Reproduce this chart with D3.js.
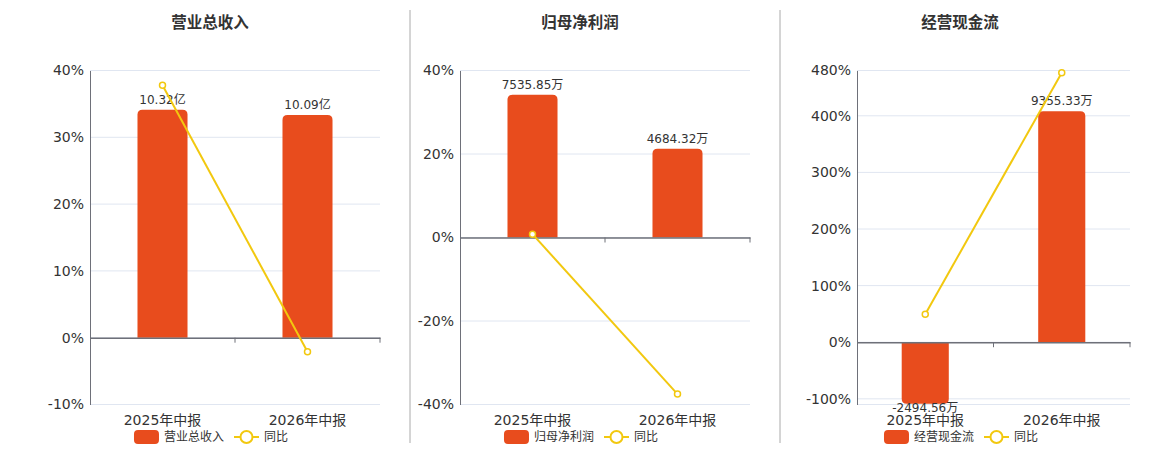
<!DOCTYPE html>
<html><head><meta charset="utf-8">
<script src="https://cdn.jsdelivr.net/npm/d3@7/dist/d3.min.js"></script>
<style>
html,body{margin:0;padding:0;background:#fff;}
svg text{font-family:"DejaVu Sans","Noto Sans CJK SC",sans-serif;}
</style></head>
<body>
<svg id="chart" width="1160" height="450"></svg>
<script>
// ---- data ----
const categories = ["2025年中报", "2026年中报"];
const titles = ["营业总收入", "归母净利润", "经营现金流"];
const revenueValues = [10.32, 10.09];
const revenueLabels = ["10.32亿", "10.09亿"];
const revenueYoY = [37.8, -2.1];
const profitValues = [7535.85, 4684.32];
const profitLabels = ["7535.85万", "4684.32万"];
const profitYoY = [0.8, -37.5];
const cashValues = [-2494.56, 9355.33];
const cashLabels = ["-2494.56万", "9355.33万"];
const cashYoY = [49.6, 476];
const lineName = "同比";
// axis tick labels (percent)
const revenueTicks = [-10, 0, 10, 20, 30, 40];
const profitTicks = [-40, -20, 0, 20, 40];
const cashTicks = [-100, 0, 100, 200, 300, 400, 480];

const panels = [
  {title: titles[0], values: revenueValues, labels: revenueLabels, yoy: revenueYoY, ticks: revenueTicks,
   pct: [-10, 40], barMax: 12.1, left: 90, right: 380, cx: 210},
  {title: titles[1], values: profitValues, labels: profitLabels, yoy: profitYoY, ticks: profitTicks,
   pct: [-40, 40], barMax: 8820, left: 460, right: 750, cx: 580},
  {title: titles[2], values: cashValues, labels: cashLabels, yoy: cashYoY, ticks: cashTicks,
   pct: [-110, 480], barMax: 11000, left: 857, right: 1130, cx: 960}
];

const BAR = "#E84C1D", LINE = "#F2C80F", AXIS = "#6E7079", GRID = "#E0E6F1", TXT = "#333";
const plotTop = 70.5, plotBottom = 404.5;
const svg = d3.select("#chart");

// separators
[410, 780].forEach(x => svg.append("line").attr("x1", x).attr("x2", x).attr("y1", 10).attr("y2", 443)
  .attr("stroke", "#aaa").attr("stroke-width", 1));

function barPath(x, w, y0, y1, r) {
  const h = Math.abs(y1 - y0);
  r = Math.min(r, h / 2, w / 2);
  if (y1 < y0) {
    return `M${x},${y0}V${y1 + r}Q${x},${y1} ${x + r},${y1}H${x + w - r}Q${x + w},${y1} ${x + w},${y1 + r}V${y0}Z`;
  } else {
    return `M${x},${y0}V${y1 - r}Q${x},${y1} ${x + r},${y1}H${x + w - r}Q${x + w},${y1} ${x + w},${y1 - r}V${y0}Z`;
  }
}

panels.forEach(p => {
  const g = svg.append("g");
  const x = d3.scaleBand().domain(categories).range([p.left, p.right]).paddingInner(0).paddingOuter(0);
  const y = d3.scaleLinear().domain(p.pct).range([plotBottom, plotTop]);
  const barMin = p.barMax * p.pct[0] / p.pct[1];
  const yb = d3.scaleLinear().domain([barMin, p.barMax]).range([plotBottom, plotTop]);

  g.append("text").attr("x", p.cx).attr("y", 28).attr("text-anchor", "middle")
    .attr("font-size", "15.5px").attr("font-weight", "bold").attr("fill", TXT)
    .style("font-family", "'Noto Sans CJK SC',sans-serif").text(p.title);

  const gridVals = p.ticks.concat([p.pct[0]]).filter((v, i, a) => a.indexOf(v) === i);
  g.selectAll(".grid").data(gridVals).enter().append("line")
    .attr("x1", p.left).attr("x2", p.right).attr("y1", d => y(d)).attr("y2", d => y(d))
    .attr("stroke", GRID).attr("stroke-width", 1);

  const yAxis = d3.axisLeft(y).tickValues(p.ticks).tickSize(0).tickPadding(6).tickFormat(d => d + "%");
  const ya = g.append("g").attr("transform", `translate(${p.left},0)`).call(yAxis);
  ya.attr("font-family", null);
  ya.select(".domain").attr("stroke", AXIS).attr("stroke-width", 1);
  ya.selectAll("text").attr("font-size", "14px").attr("fill", TXT);

  const bw = x.bandwidth() * 0.345;
  g.selectAll(".bar").data(p.values).enter().append("path")
    .attr("d", (d, i) => barPath(x(categories[i]) + (x.bandwidth() - bw) / 2, bw, yb(0), yb(d), 5))
    .attr("fill", BAR);

  g.selectAll(".bl").data(p.values).enter().append("text")
    .attr("x", (d, i) => x(categories[i]) + x.bandwidth() / 2)
    .attr("y", d => d >= 0 ? yb(d) - 6 : yb(d) + 8)
    .attr("text-anchor", "middle").attr("font-size", "12px").attr("fill", TXT)
    .text((d, i) => p.labels[i]);

  const xAxis = d3.axisBottom(x).tickSize(0).tickFormat("");
  const xa = g.append("g").attr("transform", `translate(0,${y(0)})`).call(xAxis);
  xa.select(".domain").attr("stroke", AXIS).attr("stroke-width", 1.5);
  const bounds = [x(categories[1]), p.right];
  g.selectAll(".xt").data(bounds).enter().append("line")
    .attr("x1", d => d).attr("x2", d => d).attr("y1", y(0)).attr("y2", y(0) + 5)
    .attr("stroke", AXIS).attr("stroke-width", 1);

  g.selectAll(".cl").data(categories).enter().append("text")
    .attr("x", d => x(d) + x.bandwidth() / 2).attr("y", 425)
    .attr("text-anchor", "middle").attr("font-size", "14px").attr("fill", TXT).text(d => d);

  const pts = p.yoy.map((v, i) => [x(categories[i]) + x.bandwidth() / 2, y(v)]);
  g.append("path").attr("d", d3.line()(pts)).attr("fill", "none").attr("stroke", LINE).attr("stroke-width", 2);
  g.selectAll(".pt").data(pts).enter().append("circle")
    .attr("cx", d => d[0]).attr("cy", d => d[1]).attr("r", 3)
    .attr("fill", "#fff").attr("stroke", LINE).attr("stroke-width", 1.5);

  const lg = g.append("g");
  const ly = 437;
  const r1 = lg.append("rect").attr("width", 25).attr("height", 14).attr("rx", 4).attr("fill", BAR);
  const t1 = lg.append("text").attr("font-size", "12px").attr("fill", TXT).attr("dy", "0.35em").text(p.title);
  const l2 = lg.append("line").attr("stroke", LINE).attr("stroke-width", 2);
  const c2 = lg.append("circle").attr("r", 6).attr("fill", "#fff").attr("stroke", LINE).attr("stroke-width", 2);
  const t2 = lg.append("text").attr("font-size", "12px").attr("fill", TXT).attr("dy", "0.35em").text(lineName);
  const w1 = t1.node().getComputedTextLength(), w2 = t2.node().getComputedTextLength();
  const total = 25 + 5 + w1 + 10 + 25 + 5 + w2;
  let cx = p.cx - total / 2 + 1;
  r1.attr("x", cx).attr("y", ly - 7);
  cx += 30; t1.attr("x", cx).attr("y", ly);
  cx += w1 + 10;
  l2.attr("x1", cx).attr("x2", cx + 25).attr("y1", ly).attr("y2", ly);
  c2.attr("cx", cx + 12.5).attr("cy", ly);
  cx += 30; t2.attr("x", cx).attr("y", ly);
});
</script>
</body></html>
